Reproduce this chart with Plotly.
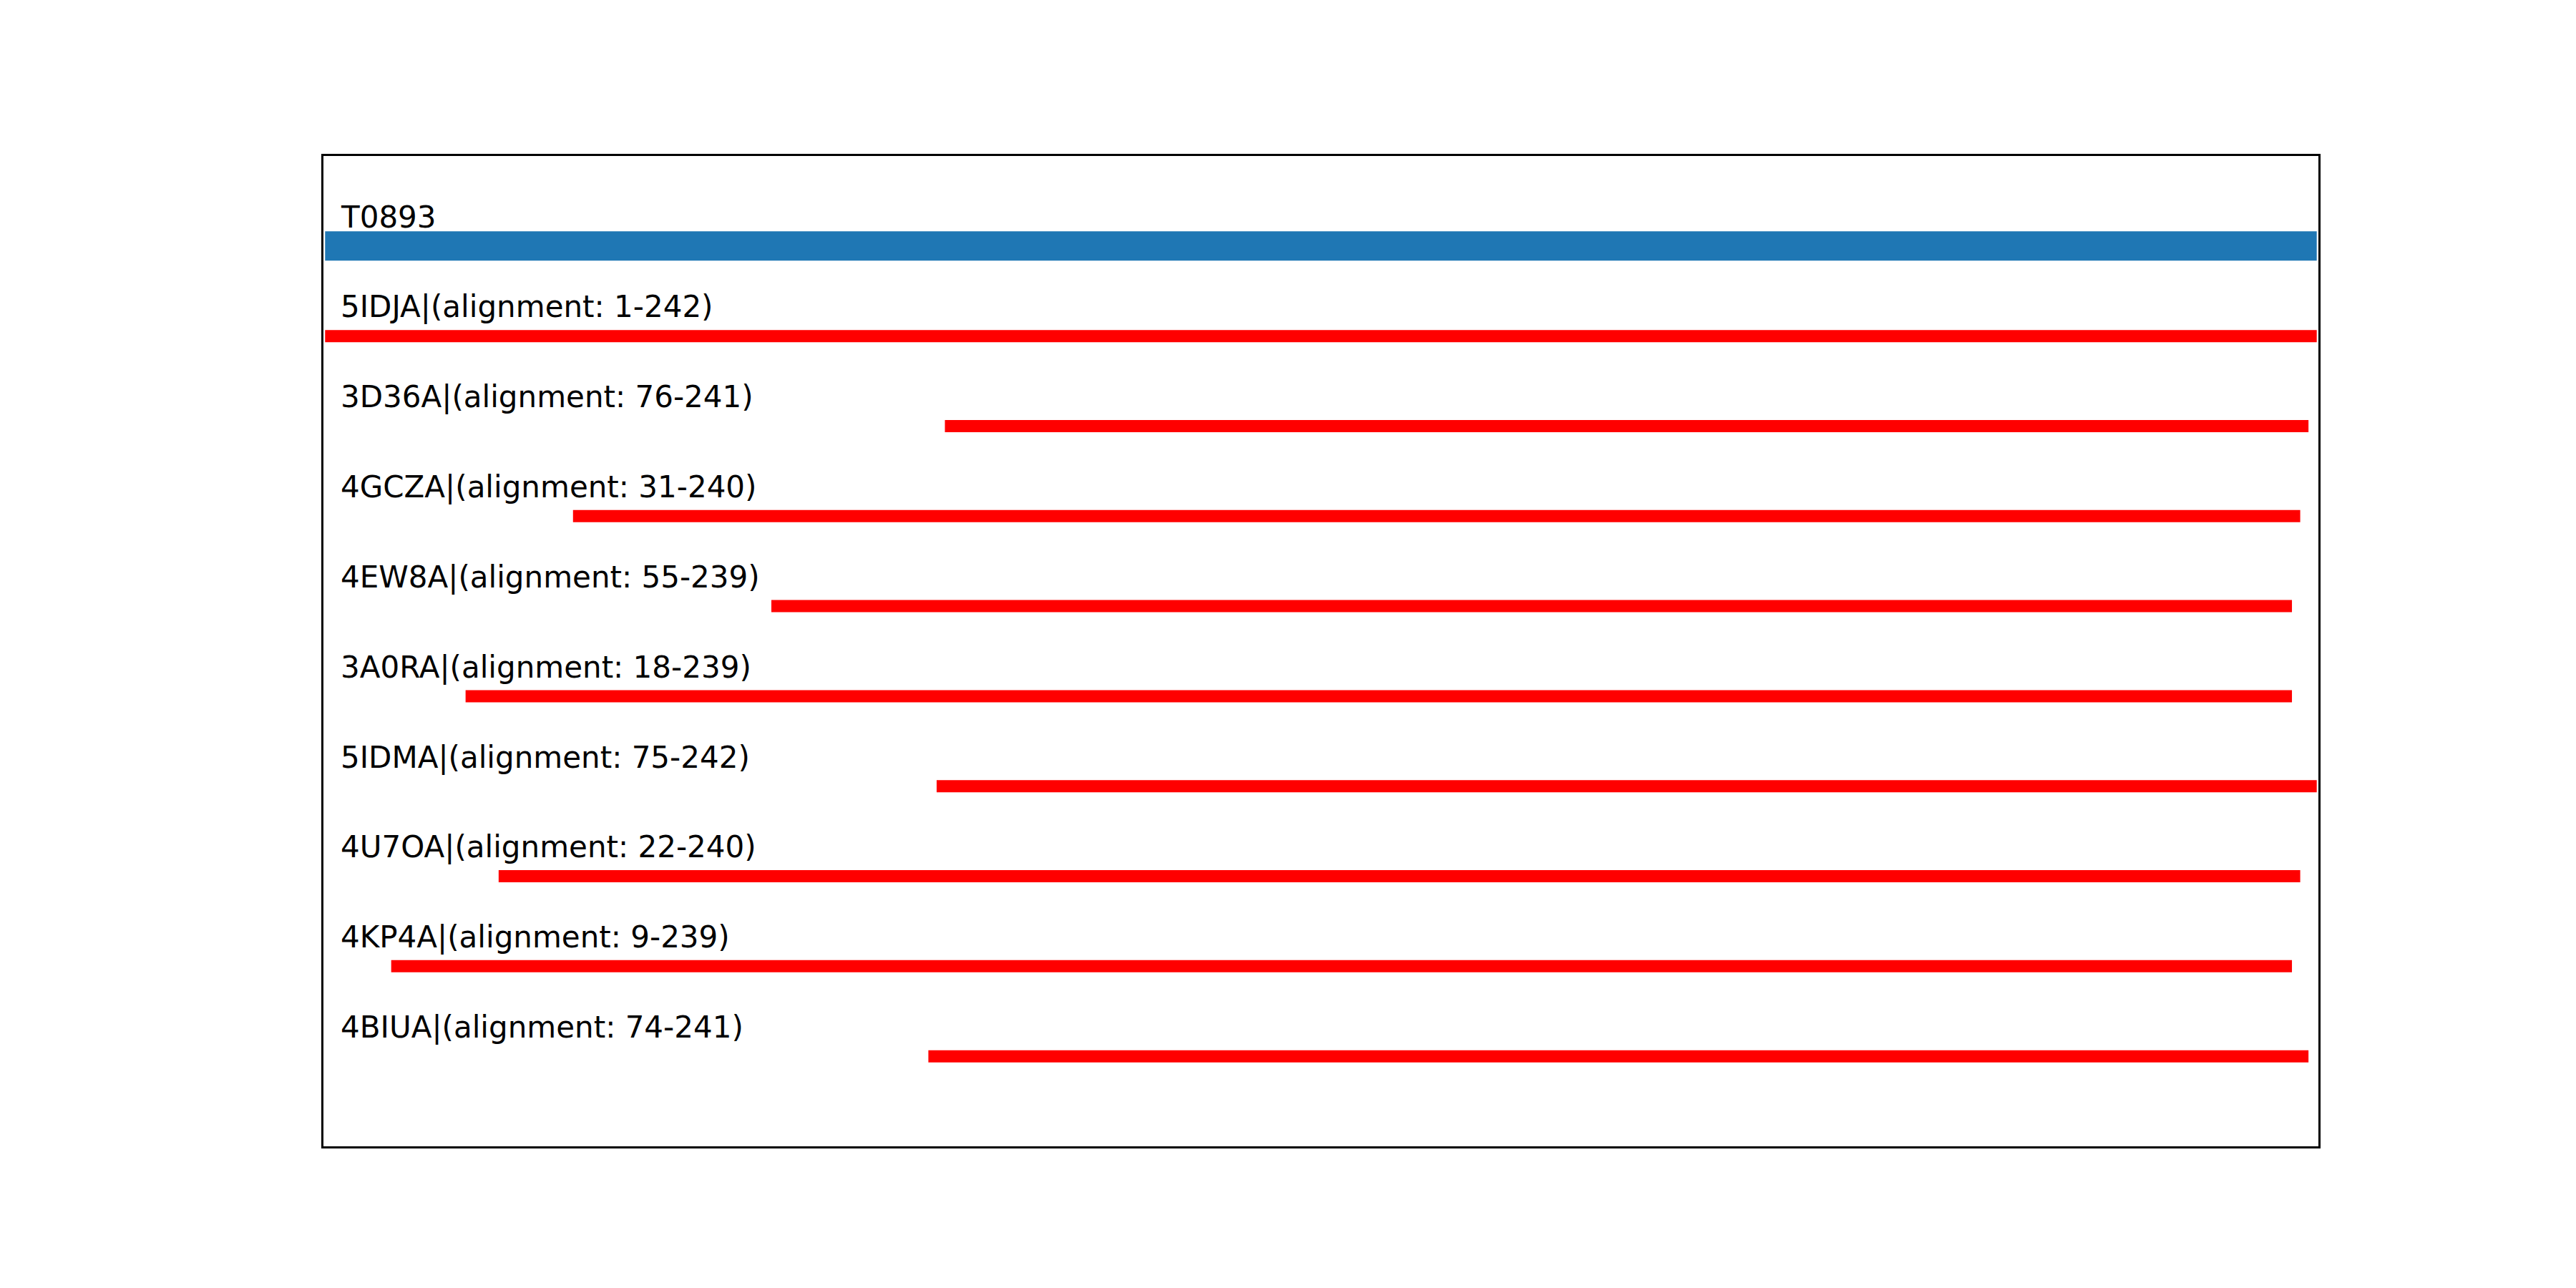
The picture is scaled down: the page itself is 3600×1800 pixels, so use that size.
import plotly.graph_objects as go

# ── Data ─────────────────────────────────────────────────────────────────────
TARGET_NAME = "T0893"
TARGET_LEN = 242

hit_names  = ["5IDJA", "3D36A", "4GCZA", "4EW8A", "3A0RA", "5IDMA", "4U7OA", "4KP4A", "4BIUA"]
hit_starts = [1, 76, 31, 55, 18, 75, 22, 9, 74]
hit_ends   = [242, 241, 240, 239, 239, 242, 240, 239, 241]

# ── Style ────────────────────────────────────────────────────────────────────
BLUE = "#1f77b4"
RED = "#ff0000"
FONT = "DejaVu Sans, sans-serif"
FONT_SIZE = 42

fig = go.Figure()

# target bar on row 0
fig.add_trace(go.Scatter(
    x=[1, TARGET_LEN], y=[0, 0], mode="lines",
    line=dict(color=BLUE, width=41), hoverinfo="skip", showlegend=False,
))

labels = [TARGET_NAME]
for i, (name, s, e) in enumerate(zip(hit_names, hit_starts, hit_ends), start=1):
    fig.add_trace(go.Scatter(
        x=[s, e], y=[i, i], mode="lines",
        line=dict(color=RED, width=17), hoverinfo="skip", showlegend=False,
    ))
    labels.append(f"{name}|(alignment: {s}-{e})")

# text above each bar
for row, txt in enumerate(labels):
    fig.add_annotation(
        text=txt, xref="paper", x=0.008, yref="y", y=row - 0.2,
        xanchor="left", yanchor="bottom", yshift=-11, showarrow=False,
        font=dict(family=FONT, size=FONT_SIZE, color="black"),
    )

axis_style = dict(
    showline=True, mirror=True, linecolor="black", linewidth=3,
    showgrid=False, zeroline=False, showticklabels=False, ticks="",
)

fig.update_xaxes(range=[0.8, TARGET_LEN + 0.2], **axis_style)
fig.update_yaxes(range=[len(hit_names) + 1, -1], **axis_style)

fig.update_layout(
    width=3600, height=1800,
    paper_bgcolor="white", plot_bgcolor="white",
    margin=dict(l=444, r=368, t=210, b=206),
    font=dict(family=FONT, size=FONT_SIZE, color="black"),
    showlegend=False,
)

fig.write_html("out.html")
